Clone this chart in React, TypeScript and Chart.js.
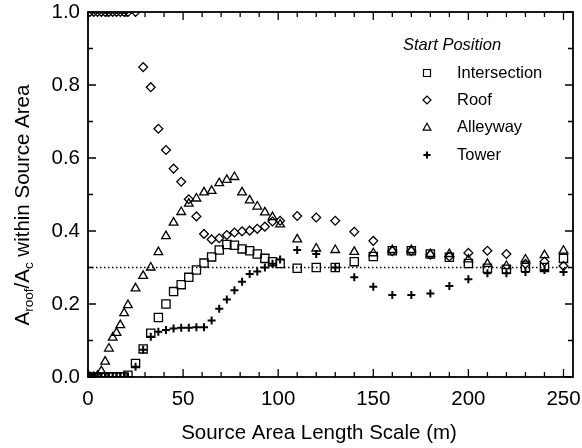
import React, { useEffect, useRef } from 'react';
import { Chart, registerables } from 'chart.js';

Chart.register(...registerables);

// Source area length scale (m)
const sourceScale = [1, 3, 5, 7, 9, 11, 13, 15, 17, 19, 21, 25, 29, 33, 37, 41, 45, 49, 53, 57, 61, 65, 69, 73, 77, 81, 85, 89, 93, 97, 101, 110, 120, 130, 140, 150, 160, 170, 180, 190, 200, 210, 220, 230, 240, 250];

const intersection = [0, 0, 0, 0, 0, 0, 0, 0, 0, 0, 0.005, 0.037, 0.077, 0.12, 0.163, 0.2, 0.234, 0.253, 0.273, 0.293, 0.312, 0.329, 0.348, 0.363, 0.361, 0.351, 0.346, 0.337, 0.325, 0.316, 0.311, 0.298, 0.3, 0.3, 0.316, 0.33, 0.346, 0.346, 0.337, 0.328, 0.311, 0.298, 0.295, 0.3, 0.3, 0.325];

const roof = [1, 1, 1, 1, 1, 1, 1, 1, 1, 1, 1, 1, 0.849, 0.794, 0.68, 0.622, 0.571, 0.535, 0.487, 0.44, 0.392, 0.377, 0.38, 0.389, 0.396, 0.399, 0.401, 0.406, 0.412, 0.426, 0.428, 0.441, 0.437, 0.428, 0.398, 0.373, 0.345, 0.345, 0.335, 0.33, 0.34, 0.346, 0.337, 0.31, 0.316, 0.304];

const alleyway = [0, 0, 0.003, 0.016, 0.042, 0.078, 0.108, 0.121, 0.142, 0.175, 0.197, 0.243, 0.277, 0.3, 0.342, 0.386, 0.423, 0.452, 0.475, 0.489, 0.506, 0.51, 0.531, 0.54, 0.548, 0.506, 0.484, 0.467, 0.451, 0.438, 0.418, 0.377, 0.352, 0.348, 0.343, 0.339, 0.348, 0.348, 0.337, 0.337, 0.322, 0.31, 0.304, 0.322, 0.334, 0.346];

const tower = [0, 0, 0, 0, 0, 0, 0, 0, 0, 0, 0, 0.028, 0.075, 0.11, 0.124, 0.129, 0.133, 0.135, 0.135, 0.136, 0.136, 0.155, 0.187, 0.212, 0.238, 0.261, 0.282, 0.289, 0.3, 0.31, 0.322, 0.348, 0.337, 0.3, 0.273, 0.247, 0.225, 0.225, 0.229, 0.249, 0.268, 0.284, 0.284, 0.288, 0.293, 0.288];

const referenceLevel = 0.3;
const seriesNames = ['Intersection', 'Roof', 'Alleyway', 'Tower'];
const legendTitle = 'Start Position';
const xTitle = 'Source Area Length Scale (m)';

const FONT = '"Liberation Sans", Arial, Helvetica, sans-serif';

function drawMarker(ctx: CanvasRenderingContext2D, kind: string, x: number, y: number) {
  ctx.save();
  ctx.strokeStyle = '#000';
  ctx.beginPath();
  if (kind === 'rect') {
    ctx.lineWidth = 1.2;
    ctx.rect(x - 3.5, y - 3.5, 7, 7);
  } else if (kind === 'rectRot') {
    ctx.lineWidth = 1.2;
    ctx.moveTo(x - 4, y);
    ctx.lineTo(x, y - 4);
    ctx.lineTo(x + 4, y);
    ctx.lineTo(x, y + 4);
    ctx.closePath();
  } else if (kind === 'triangle') {
    ctx.lineWidth = 1.2;
    ctx.moveTo(x, y - 4.3);
    ctx.lineTo(x + 3.9, y + 2.6);
    ctx.lineTo(x - 3.9, y + 2.6);
    ctx.closePath();
  } else {
    ctx.lineWidth = 2;
    ctx.moveTo(x - 3.6, y);
    ctx.lineTo(x + 3.6, y);
    ctx.moveTo(x, y - 3.6);
    ctx.lineTo(x, y + 3.6);
  }
  ctx.stroke();
  ctx.restore();
}

const framePlugin = {
  id: 'frameAndTicks',
  afterDraw(chart: any) {
    const { ctx, chartArea } = chart;
    const xs = chart.scales.x;
    const ys = chart.scales.y;
    const { left, right, top, bottom } = chartArea;
    ctx.save();
    ctx.strokeStyle = '#000';
    ctx.lineWidth = 1.8;
    ctx.strokeRect(left, top, right - left, bottom - top);
    ctx.lineWidth = 1.3;
    ctx.beginPath();
    for (let v = 0; v <= 250; v += 10) {
      const px = xs.getPixelForValue(v);
      const len = v % 50 === 0 ? 8 : 5;
      ctx.moveTo(px, bottom);
      ctx.lineTo(px, bottom - len);
      ctx.moveTo(px, top);
      ctx.lineTo(px, top + len);
    }
    for (let i = 0; i <= 10; i++) {
      const v = i / 10;
      const py = ys.getPixelForValue(v);
      const len = i % 2 === 0 ? 8 : 5;
      ctx.moveTo(left, py);
      ctx.lineTo(left + len, py);
      ctx.moveTo(right, py);
      ctx.lineTo(right - len, py);
    }
    ctx.stroke();

    // X title
    ctx.fillStyle = '#000';
    ctx.font = `20.5px ${FONT}`;
    ctx.textAlign = 'center';
    ctx.textBaseline = 'middle';
    ctx.fillText(xTitle, 319, 433);

    // Y title with subscripts
    const parts: [string, boolean][] = [['A', false], ['roof', true], ['/A', false], ['c', true], [' within Source Area', false]];
    const mainFont = `20.5px ${FONT}`;
    const subFont = `13.5px ${FONT}`;
    let total = 0;
    for (const [t, sub] of parts) {
      ctx.font = sub ? subFont : mainFont;
      total += ctx.measureText(t).width;
    }
    ctx.translate(23, 205);
    ctx.rotate(-Math.PI / 2);
    ctx.textAlign = 'left';
    let cx = -total / 2;
    for (const [t, sub] of parts) {
      ctx.font = sub ? subFont : mainFont;
      ctx.fillText(t, cx, sub ? 6 : 0);
      cx += ctx.measureText(t).width;
    }
    ctx.restore();

    // Legend
    ctx.save();
    ctx.fillStyle = '#000';
    ctx.textBaseline = 'middle';
    ctx.textAlign = 'left';
    ctx.font = `italic 16.5px ${FONT}`;
    ctx.fillText(legendTitle, 403, 45);
    ctx.font = `16.5px ${FONT}`;
    const styles = ['rect', 'rectRot', 'triangle', 'cross'];
    const rows = [73, 100, 127.5, 155];
    seriesNames.forEach((name, i) => {
      drawMarker(ctx, styles[i], 427, rows[i]);
      ctx.fillText(name, 457, rows[i]);
    });
    ctx.restore();
  },
};

function toPoints(vals: number[]) {
  return sourceScale.map((x, i) => ({ x, y: vals[i] }));
}

export default function App() {
  const ref = useRef<HTMLCanvasElement | null>(null);
  useEffect(() => {
    if (!ref.current) return;
    const common = {
      showLine: false,
      pointBorderColor: '#000',
      pointBackgroundColor: 'rgba(0,0,0,0)',
      borderColor: '#000',
      backgroundColor: 'rgba(0,0,0,0)',
      clip: 0,
    };
    const chart = new Chart(ref.current, {
      type: 'scatter',
      data: {
        datasets: [
          { ...common, label: seriesNames[0], data: toPoints(intersection), pointStyle: 'rect', pointRadius: 5.8, pointBorderWidth: 1.3 },
          { ...common, label: seriesNames[1], data: toPoints(roof), pointStyle: 'rectRot', pointRadius: 4.4, pointBorderWidth: 1.3 },
          { ...common, label: seriesNames[2], data: toPoints(alleyway), pointStyle: 'triangle', pointRadius: 5, pointBorderWidth: 1.3 },
          { ...common, label: seriesNames[3], data: toPoints(tower), pointStyle: 'cross', pointRadius: 4, pointBorderWidth: 2 },
          {
            label: 'ref',
            data: [{ x: 0, y: referenceLevel }, { x: 255, y: referenceLevel }],
            showLine: true,
            borderColor: '#000',
            borderWidth: 1.3,
            borderDash: [1.5, 2.5],
            pointRadius: 0,
            fill: false,
          },
        ] as any,
      },
      options: {
        responsive: false,
        animation: false,
        events: [],
        layout: { padding: { top: 12, right: 9, left: 0, bottom: 0 } },
        plugins: { legend: { display: false }, tooltip: { enabled: false } },
        scales: {
          x: {
            type: 'linear',
            min: 0,
            max: 255,
            grid: { display: false, drawTicks: false },
            border: { display: false },
            ticks: {
              stepSize: 50,
              includeBounds: false,
              color: '#000',
              padding: 10,
              maxRotation: 0,
              font: { family: FONT, size: 20.5 },
            },
            afterFit: (s: any) => { s.height = 71; s.paddingLeft = 0; s.paddingRight = 0; },
          },
          y: {
            type: 'linear',
            min: 0,
            max: 1,
            grid: { display: false, drawTicks: false },
            border: { display: false },
            ticks: {
              stepSize: 0.2,
              color: '#000',
              padding: 8,
              font: { family: FONT, size: 20.5 },
              callback: (v: any) => Number(v).toFixed(1),
            },
            afterFit: (s: any) => { s.width = 88; s.paddingTop = 0; s.paddingBottom = 0; },
          },
        },
      } as any,
      plugins: [framePlugin],
    });
    return () => chart.destroy();
  }, []);
  return (
    <div style={{ position: 'fixed', left: 0, top: 0, width: 582, height: 448, background: '#fff' }}>
      <canvas ref={ref} width={582} height={448} style={{ display: 'block' }} />
    </div>
  );
}
